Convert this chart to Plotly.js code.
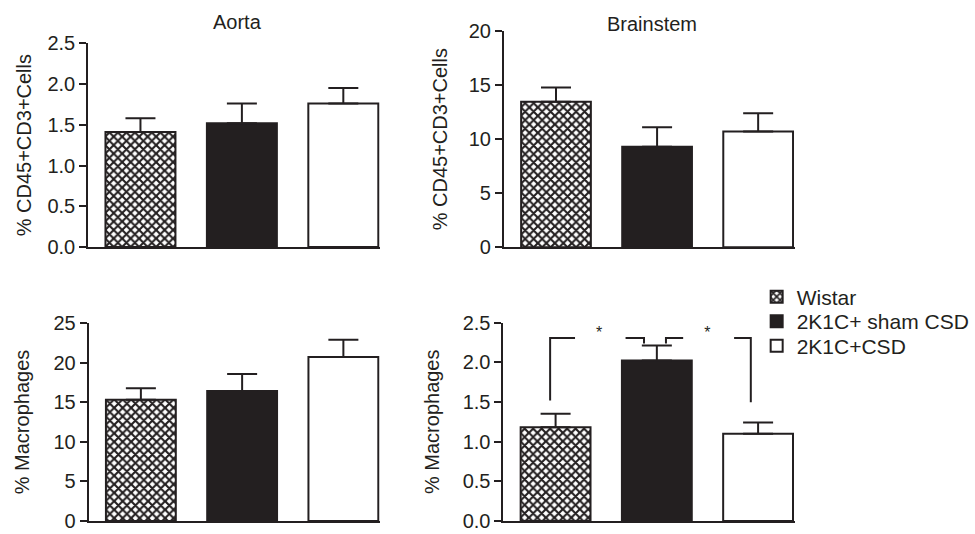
<!DOCTYPE html>
<html>
<head>
<meta charset="utf-8">
<script src="https://cdn.plot.ly/plotly-3.0.1.min.js"></script>
<style>html,body{margin:0;padding:0;background:#fff;}#chart{width:975px;height:534px;}</style>
</head>
<body>
<div id="chart"></div>
<script>
// ---- data ----
const groups = ['Wistar', '2K1C+ sham CSD', '2K1C+CSD'];
const groupIndex = [0, 1, 2];

const aortaCD3Mean = [1.41, 1.52, 1.76];
const aortaCD3Err  = [0.17, 0.24, 0.19];
const brainCD3Mean = [13.45, 9.3, 10.7];
const brainCD3Err  = [1.33, 1.8, 1.7];
const aortaMacMean = [15.3, 16.4, 20.7];
const aortaMacErr  = [1.45, 2.15, 2.2];
const brainMacMean = [1.18, 2.02, 1.10];
const brainMacErr  = [0.17, 0.19, 0.14];

const panelTitles = ['Aorta', 'Brainstem'];
const yTitleCD3 = '% CD45+CD3+Cells';
const yTitleMac = '% Macrophages';

const tickAortaCD3 = [0, 0.5, 1.0, 1.5, 2.0, 2.5];
const tickBrainCD3 = [0, 5, 10, 15, 20];
const tickAortaMac = [0, 5, 10, 15, 20, 25];
const tickBrainMac = [0, 0.5, 1.0, 1.5, 2.0, 2.5];

// significance brackets (brainstem macrophages)
const bracketX = [-0.054, -0.054, 0.192, null, 0.691, 0.873, 0.873, null, 1.090, 1.090, 1.260, null, 1.763, 1.928, 1.928];
const bracketY = [1.518, 2.305, 2.305, null, 2.305, 2.305, 2.235, null, 2.235, 2.305, 2.305, null, 2.305, 2.305, 1.497];
const starX = [0.43, 1.50];
const starY = [2.36, 2.36];
const starText = ['*', '*'];

// ---- styling ----
const ink = '#231f20';
const font = 'Liberation Sans, Arial, Helvetica, sans-serif';
const styles = [
  {color: '#ffffff', pattern: {shape: 'x', fgcolor: ink, bgcolor: '#ffffff', size: 6, solidity: 0.58, fillmode: 'replace'}},
  {color: ink},
  {color: '#ffffff'}
];

const traces = [];
function addPanel(means, errs, xa, ya, legendOn) {
  for (let i = 0; i < 3; i++) {
    const m = {color: styles[i].color, line: {color: ink, width: 2}};
    if (styles[i].pattern) m.pattern = styles[i].pattern;
    traces.push({
      type: 'bar', x: [groupIndex[i]], y: [means[i]], width: 0.69,
      name: groups[i], marker: m, xaxis: xa, yaxis: ya,
      error_y: {type: 'data', symmetric: false, array: [errs[i]], arrayminus: [0], color: ink, thickness: 2, width: 15},
      showlegend: legendOn, legend: ['legend', 'legend2', 'legend3'][i],
      hoverinfo: 'skip'
    });
  }
}
addPanel(aortaCD3Mean, aortaCD3Err, 'x', 'y', true);
addPanel(brainCD3Mean, brainCD3Err, 'x2', 'y2', false);
addPanel(aortaMacMean, aortaMacErr, 'x3', 'y3', false);
addPanel(brainMacMean, brainMacErr, 'x4', 'y4', false);

traces.push({type: 'scatter', mode: 'lines', x: bracketX, y: bracketY, xaxis: 'x4', yaxis: 'y4',
  line: {color: ink, width: 2}, connectgaps: false, showlegend: false, hoverinfo: 'skip'});
traces.push({type: 'scatter', mode: 'text', x: starX, y: starY, text: starText, xaxis: 'x4', yaxis: 'y4',
  textfont: {family: font, size: 16, color: ink}, showlegend: false, hoverinfo: 'skip'});

const W = 975, H = 534;
const px = (a, b) => [a / W, b / W];
const py = (top, bottom) => [(H - bottom) / H, (H - top) / H];

function xAx(dom, anchor) {
  return {domain: dom, anchor: anchor, range: [-0.515, 2.36], showline: true, linecolor: ink, linewidth: 2,
    showgrid: false, zeroline: false, showticklabels: false, ticks: '', fixedrange: true};
}
function yAx(dom, anchor, range, tv, fmt, title, standoff) {
  return {domain: dom, anchor: anchor, range: range, showline: true, linecolor: ink, linewidth: 2,
    showgrid: false, zeroline: false, ticks: 'outside', ticklen: 7, tickwidth: 2, tickcolor: ink,
    tickmode: 'array', tickvals: tv, tickformat: fmt, ticklabeloverflow: 'allow',
    tickfont: {family: font, size: 20, color: ink},
    title: {text: title, font: {family: font, size: 20, color: ink}, standoff: standoff}, fixedrange: true};
}

const legendBase = {x: 759 / W, xanchor: 'left', yanchor: 'middle', bgcolor: 'rgba(0,0,0,0)',
  font: {family: font, size: 21, color: ink}, borderwidth: 0};

const layout = {
  width: W, height: H, margin: {l: 0, r: 0, t: 0, b: 0},
  paper_bgcolor: '#fff', plot_bgcolor: '#fff', barmode: 'overlay',
  font: {family: font, color: ink},
  xaxis: xAx(px(88.5, 381), 'y'),
  yaxis: yAx(py(43.3, 247), 'x', [0, 2.5], tickAortaCD3, '.1f', yTitleCD3, 10),
  xaxis2: xAx(px(505.5, 797), 'y2'),
  yaxis2: yAx(py(31, 247.3), 'x2', [0, 20], tickBrainCD3, 'd', yTitleCD3, 16),
  xaxis3: xAx(px(89, 381), 'y3'),
  yaxis3: yAx(py(323, 521), 'x3', [0, 25], tickAortaMac, 'd', yTitleMac, 18),
  xaxis4: xAx(px(505, 797), 'y4'),
  yaxis4: yAx(py(322.5, 521), 'x4', [0, 2.5], tickBrainMac, '.1f', yTitleMac, 18),
  legend: Object.assign({}, legendBase, {y: (H - 297) / H}),
  legend2: Object.assign({}, legendBase, {y: (H - 321.5) / H}),
  legend3: Object.assign({}, legendBase, {y: (H - 346) / H}),
  annotations: [
    {text: panelTitles[0], xref: 'paper', yref: 'paper', x: 238 / W, y: (H - 22) / H, showarrow: false,
     xanchor: 'center', yanchor: 'middle', font: {family: font, size: 20, color: ink}},
    {text: panelTitles[1], xref: 'paper', yref: 'paper', x: 654 / W, y: (H - 24) / H, showarrow: false,
     xanchor: 'center', yanchor: 'middle', font: {family: font, size: 20, color: ink}}
  ],
  showlegend: true
};

Plotly.newPlot('chart', traces, layout, {staticPlot: true, displayModeBar: false});
</script>
</body>
</html>
